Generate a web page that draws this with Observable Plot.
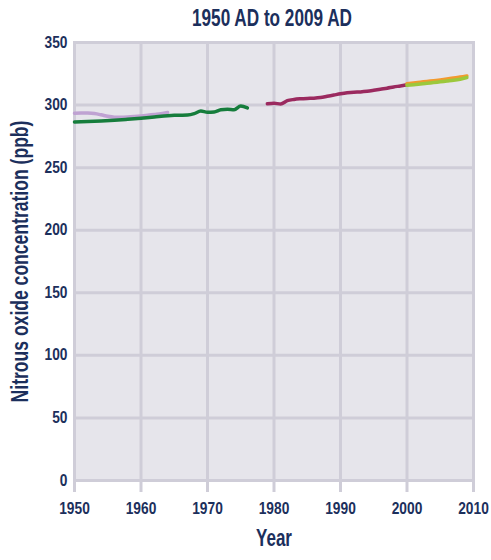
<!DOCTYPE html>
<html>
<head>
<meta charset="utf-8">
<script src="https://cdn.jsdelivr.net/npm/d3@7"></script>
<script src="https://cdn.jsdelivr.net/npm/@observablehq/plot@0.6"></script>
<style>
  body { margin: 0; background: #ffffff; }
  #title { width: 491px; height: 32px; position: relative; overflow: visible;
    font-family: "Liberation Sans", Arial, sans-serif; font-weight: bold; color: #1c2f5c; }
  #title span { position: absolute; left: 272px; top: 18px; white-space: nowrap; font-size: 24px; line-height: 1;
    transform-origin: 0 0; }
</style>
</head>
<body>
<div id="title"><span id="titleText"></span></div>
<div id="chart"></div>
<script>
const titleText = "1950 AD to 2009 AD";
const xLabel = "Year";
const yLabel = "Nitrous oxide concentration (ppb)";
const xTicks = [1950, 1960, 1970, 1980, 1990, 2000, 2010];
const yTicks = [0, 50, 100, 150, 200, 250, 300, 350];

const purpleYears = [1950,1951,1952,1953,1954,1955,1956,1957,1958,1959,1960,1961,1962,1963,1964];
const purpleVals  = [293.5,293.7,293.6,293.2,292.2,291.0,290.3,290.2,290.4,290.8,291.3,291.9,292.5,293.1,294.0];

const greenYears = [1950,1952,1954,1956,1958,1960,1962,1964,1965,1966,1967,1968,1969,1970,1971,1972,1973,1974,1975,1976];
const greenVals  = [286.5,286.8,287.2,287.8,288.6,289.5,290.5,291.5,291.8,291.9,292.1,293.2,295.2,294.3,294.5,296.2,296.6,296.3,299.2,297.8];

const maroonYears = [1979,1980,1981,1982,1983,1984,1985,1986,1987,1988,1989,1990,1991,1992,1993,1994,1995,1996,1997,1998,1999,2000];
const maroonVals  = [301.0,301.5,300.8,303.5,304.5,305.0,305.3,305.5,306.0,307.0,308.0,309.0,309.8,310.3,310.5,311.0,311.8,312.7,313.5,314.5,315.3,316.2];

const orangeYears = [2000,2001,2002,2003,2004,2005,2006,2007,2008,2009];
const orangeVals  = [317.0,317.7,318.3,318.9,319.5,320.1,320.8,321.6,322.4,323.3];

const limeYears = [2000,2001,2002,2003,2004,2005,2006,2007,2008,2009];
const limeVals  = [315.8,316.3,316.8,317.4,318.0,318.6,319.2,319.8,320.7,322.0];

const toRows = (ys, vs) => ys.map((y, i) => ({year: y, value: vs[i]}));

const navy = "#1c2f5c";
const gridColor = "#cfcdd8";
const bg = "#e6e5eb";
const font = '"Liberation Sans", Arial, sans-serif';

const lineOpts = {x: "year", y: "value", strokeWidth: 3.5, strokeLinejoin: "round", strokeLinecap: "round", curve: "monotone-x"};

const chart = Plot.plot({
  width: 491,
  height: 528,
  marginLeft: 74,
  marginRight: 18,
  marginTop: 10,
  marginBottom: 80,
  style: {background: "#ffffff", color: navy, fontFamily: font, fontWeight: "bold"},
  x: {domain: [1950, 2010], label: null},
  y: {domain: [0, 350], label: null},
  marks: [
    Plot.frame({fill: bg, stroke: null}),
    Plot.gridX(xTicks, {stroke: gridColor, strokeWidth: 3, strokeOpacity: 1}),
    Plot.gridY(yTicks, {stroke: gridColor, strokeWidth: 3, strokeOpacity: 1}),
    Plot.frame({stroke: gridColor, strokeWidth: 3}),
    Plot.axisX(xTicks, {tickSize: 12, tickPadding: 10, stroke: gridColor, strokeWidth: 3, tickFormat: "d", fontSize: 16, label: null, fill: navy}),
    Plot.axisY(yTicks, {tickSize: 0, tickPadding: 7, fontSize: 16, label: null, fill: navy}),
    Plot.line(toRows(purpleYears, purpleVals), {...lineOpts, stroke: "#bfa2d2"}),
    Plot.line(toRows(greenYears, greenVals), {...lineOpts, stroke: "#167d3c"}),
    Plot.line(toRows(maroonYears, maroonVals), {...lineOpts, stroke: "#9b2a5f"}),
    Plot.line(toRows(orangeYears, orangeVals), {...lineOpts, stroke: "#f29a2e"}),
    Plot.line(toRows(limeYears, limeVals), {...lineOpts, stroke: "#9cc83c"}),
    Plot.text([xLabel], {frameAnchor: "bottom", dy: 65, fontSize: 23, fontWeight: "bold", fill: navy}),
    Plot.text([yLabel], {frameAnchor: "left", textAnchor: "middle", dx: -54, rotate: -90, fontSize: 23, fontWeight: "bold", fill: navy})
  ]
});
document.getElementById("chart").appendChild(chart);

// condense texts to the narrow look of the original (scale along the text direction)
const tickStrings = new Set([...xTicks, ...yTicks].map(String));
d3.select(chart).selectAll("text").each(function() {
  const t = this.textContent;
  let sx = null;
  if (t === yLabel) sx = 282 / this.getComputedTextLength();
  else if (t === xLabel) sx = 36 / this.getComputedTextLength();
  else if (tickStrings.has(t)) sx = 0.86;
  if (sx) {
    const tr = this.getAttribute("transform") || "";
    this.setAttribute("transform", `${tr} scale(${sx},1)`);
  }
});

// title: centred over the plot, condensed
const span = document.getElementById("titleText");
span.textContent = titleText;
const w = span.getBoundingClientRect().width;
const h = span.getBoundingClientRect().height;
const s = 160 / w;
span.style.transform = `scaleX(${s}) translate(${-w / 2}px, ${-h / 2}px)`;
</script>
</body>
</html>
